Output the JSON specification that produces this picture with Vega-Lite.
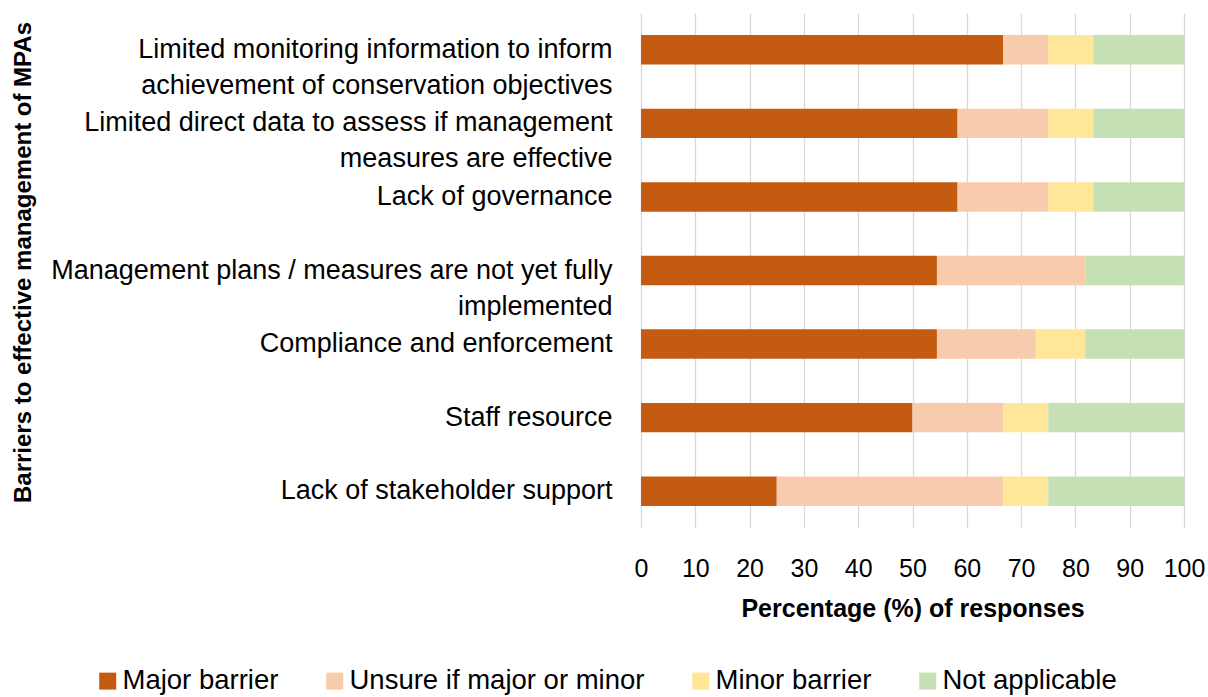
{
  "$schema": "https://vega.github.io/schema/vega-lite/v6.json",
  "width": 543,
  "height": 515,
  "autosize": {"type": "none"},
  "padding": {"left": 641, "top": 13, "right": 24, "bottom": 169},
  "background": "white",
  "config": {"view": {"stroke": null}, "font": "Liberation Sans"},
  "data": {
    "values": [
      {"barrier": "Limited monitoring information to inform|achievement of conservation objectives", "response": "Major barrier", "k": 1, "pct": 66.7},
      {"barrier": "Limited monitoring information to inform|achievement of conservation objectives", "response": "Unsure if major or minor", "k": 2, "pct": 8.3},
      {"barrier": "Limited monitoring information to inform|achievement of conservation objectives", "response": "Minor barrier", "k": 3, "pct": 8.3},
      {"barrier": "Limited monitoring information to inform|achievement of conservation objectives", "response": "Not applicable", "k": 4, "pct": 16.7},
      {"barrier": "Limited direct data to assess if management|measures are effective", "response": "Major barrier", "k": 1, "pct": 58.3},
      {"barrier": "Limited direct data to assess if management|measures are effective", "response": "Unsure if major or minor", "k": 2, "pct": 16.7},
      {"barrier": "Limited direct data to assess if management|measures are effective", "response": "Minor barrier", "k": 3, "pct": 8.3},
      {"barrier": "Limited direct data to assess if management|measures are effective", "response": "Not applicable", "k": 4, "pct": 16.7},
      {"barrier": "Lack of governance\u00a0", "response": "Major barrier", "k": 1, "pct": 58.3},
      {"barrier": "Lack of governance\u00a0", "response": "Unsure if major or minor", "k": 2, "pct": 16.7},
      {"barrier": "Lack of governance\u00a0", "response": "Minor barrier", "k": 3, "pct": 8.3},
      {"barrier": "Lack of governance\u00a0", "response": "Not applicable", "k": 4, "pct": 16.7},
      {"barrier": "Management plans / measures are not yet fully|implemented", "response": "Major barrier", "k": 1, "pct": 54.5},
      {"barrier": "Management plans / measures are not yet fully|implemented", "response": "Unsure if major or minor", "k": 2, "pct": 27.3},
      {"barrier": "Management plans / measures are not yet fully|implemented", "response": "Minor barrier", "k": 3, "pct": 0},
      {"barrier": "Management plans / measures are not yet fully|implemented", "response": "Not applicable", "k": 4, "pct": 18.2},
      {"barrier": "Compliance and enforcement", "response": "Major barrier", "k": 1, "pct": 54.5},
      {"barrier": "Compliance and enforcement", "response": "Unsure if major or minor", "k": 2, "pct": 18.2},
      {"barrier": "Compliance and enforcement", "response": "Minor barrier", "k": 3, "pct": 9.1},
      {"barrier": "Compliance and enforcement", "response": "Not applicable", "k": 4, "pct": 18.2},
      {"barrier": "Staff resource", "response": "Major barrier", "k": 1, "pct": 50},
      {"barrier": "Staff resource", "response": "Unsure if major or minor", "k": 2, "pct": 16.7},
      {"barrier": "Staff resource", "response": "Minor barrier", "k": 3, "pct": 8.3},
      {"barrier": "Staff resource", "response": "Not applicable", "k": 4, "pct": 25},
      {"barrier": "Lack of stakeholder support", "response": "Major barrier", "k": 1, "pct": 25},
      {"barrier": "Lack of stakeholder support", "response": "Unsure if major or minor", "k": 2, "pct": 41.7},
      {"barrier": "Lack of stakeholder support", "response": "Minor barrier", "k": 3, "pct": 8.3},
      {"barrier": "Lack of stakeholder support", "response": "Not applicable", "k": 4, "pct": 25}
    ]
  },
  "mark": {"type": "bar"},
  "encoding": {
    "y": {
      "field": "barrier",
      "type": "nominal",
      "sort": null,
      "scale": {"paddingInner": 0.6, "paddingOuter": 0.3},
      "axis": {
        "title": "Barriers to effective management of MPAs",
        "titleFontSize": 24,
        "titleFontWeight": "bold",
        "titleColor": "black",
        "titleX": -618,
        "titleY": 249,
        "titleBaseline": "middle",
        "titleAlign": "center",
        "labelExpr": "split(datum.label, '|')",
        "labelLineHeight": 36,
        "labelFontSize": 27,
        "labelColor": "black",
        "labelPadding": 29,
        "labelLimit": 700,
        "ticks": false,
        "domain": false,
        "grid": false
      }
    },
    "x": {
      "field": "pct",
      "type": "quantitative",
      "stack": "zero",
      "scale": {"domain": [0, 100], "nice": false},
      "axis": {
        "values": [0, 10, 20, 30, 40, 50, 60, 70, 80, 90, 100],
        "title": "Percentage (%) of responses",
        "titleFontSize": 25,
        "titleFontWeight": "bold",
        "titleColor": "black",
        "titlePadding": 15,
        "labelFontSize": 25,
        "labelColor": "black",
        "labelPadding": 28,
        "labelFlush": false,
        "ticks": false,
        "domain": false,
        "grid": true,
        "gridColor": "#d9d9d9",
        "gridWidth": 1.3
      }
    },
    "color": {
      "field": "response",
      "type": "nominal",
      "sort": ["Major barrier", "Unsure if major or minor", "Minor barrier", "Not applicable"],
      "scale": {
        "domain": ["Major barrier", "Unsure if major or minor", "Minor barrier", "Not applicable"],
        "range": ["#C55A11", "#F8CBAD", "#FFE699", "#C5E0B4"]
      },
      "legend": {
        "orient": "none",
        "legendX": -547,
        "legendY": 654,
        "direction": "horizontal",
        "title": null,
        "symbolType": "square",
        "symbolSize": 289,
        "symbolStrokeWidth": 0,
        "symbolOpacity": 1,
        "labelFontSize": 27.5,
        "labelColor": "black",
        "labelOffset": 1,
        "labelLimit": 500,
        "columnPadding": 42
      }
    },
    "order": {"field": "k", "type": "quantitative"}
  }
}
